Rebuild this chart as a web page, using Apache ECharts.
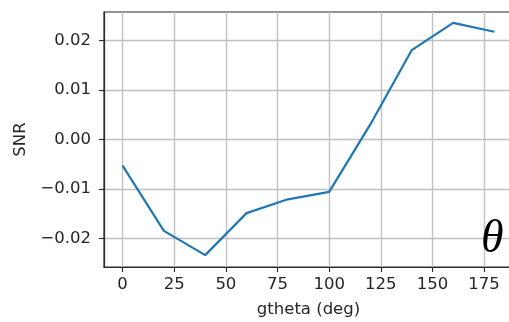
<!DOCTYPE html>
<html>
<head>
<meta charset="utf-8">
<script src="https://cdn.jsdelivr.net/npm/echarts@6/dist/echarts.min.js"></script>
<style>
  html, body { margin: 0; padding: 0; background: #fff; }
  #chart { width: 509px; height: 322px; }
</style>
</head>
<body>
<div id="chart"></div>
<script>
// Scan angle in degrees and the measured SNR at each angle
const angles = [0, 20, 40, 60, 80, 100, 120, 140, 160, 180];
const snr = [-0.0053, -0.0185, -0.0234, -0.0149, -0.0121, -0.0106, 0.0031, 0.0181, 0.0236, 0.0218];

// Tick positions for both axes
const xTicks = [0, 25, 50, 75, 100, 125, 150, 175];
const yTicks = [-0.02, -0.01, 0.00, 0.01, 0.02];

const textColor = '#262626';
const fontFamily = '"DejaVu Sans", sans-serif';

const fmtY = v => {
  const s = Math.abs(v).toFixed(2);
  return v < -1e-9 ? '\u2212' + s : s;
};

const chart = echarts.init(document.getElementById('chart'), null, { renderer: 'canvas' });

chart.setOption({
  animation: false,
  backgroundColor: '#ffffff',
  grid: {
    left: 104, top: 12, width: 409, height: 255,
    outerBoundsMode: 'none',
    containLabel: false,
    show: true, borderColor: '#2a2a2a', borderWidth: 1.2,
    backgroundColor: 'transparent'
  },
  xAxis: {
    type: 'value',
    min: -9, max: 189,
    name: 'gtheta (deg)',
    nameLocation: 'middle',
    nameGap: 34,
    nameTextStyle: { color: textColor, fontSize: 16.5, fontFamily },
    axisLine: { show: true, onZero: false, lineStyle: { color: '#2a2a2a', width: 1.2 } },
    axisTick: { show: true, length: 5, customValues: xTicks, lineStyle: { color: '#2a2a2a', width: 1.1 } },
    axisLabel: { customValues: xTicks, margin: 9, color: textColor, fontSize: 16.5, fontFamily },
    splitLine: { show: true, lineStyle: { color: '#c0c0c0', width: 1.4 } }
  },
  yAxis: {
    type: 'value',
    min: -0.0258, max: 0.0258,
    name: 'SNR',
    nameLocation: 'middle',
    nameRotate: 90,
    nameGap: 67,
    nameTextStyle: { color: textColor, fontSize: 16.5, fontFamily },
    axisLine: { show: true, onZero: false, lineStyle: { color: '#2a2a2a', width: 1.2 } },
    axisTick: { show: true, length: 5, customValues: yTicks, lineStyle: { color: '#2a2a2a', width: 1.1 } },
    axisLabel: { customValues: yTicks, margin: 13, color: textColor, fontSize: 16.5, fontFamily, formatter: fmtY },
    splitLine: { show: true, lineStyle: { color: '#c0c0c0', width: 1.4 } }
  },
  series: [{
    type: 'line',
    data: angles.map((a, i) => [a, snr[i]]),
    showSymbol: false,
    symbol: 'none',
    lineStyle: { color: '#1f77b4', width: 2.2 },
    z: 3
  }],
  graphic: [{
    type: 'text',
    left: 481, top: 217,
    z: 10,
    style: {
      text: '\u03b8',
      font: 'italic 46px "Liberation Serif", "DejaVu Serif", serif',
      fill: '#000'
    }
  }]
});
</script>
</body>
</html>
